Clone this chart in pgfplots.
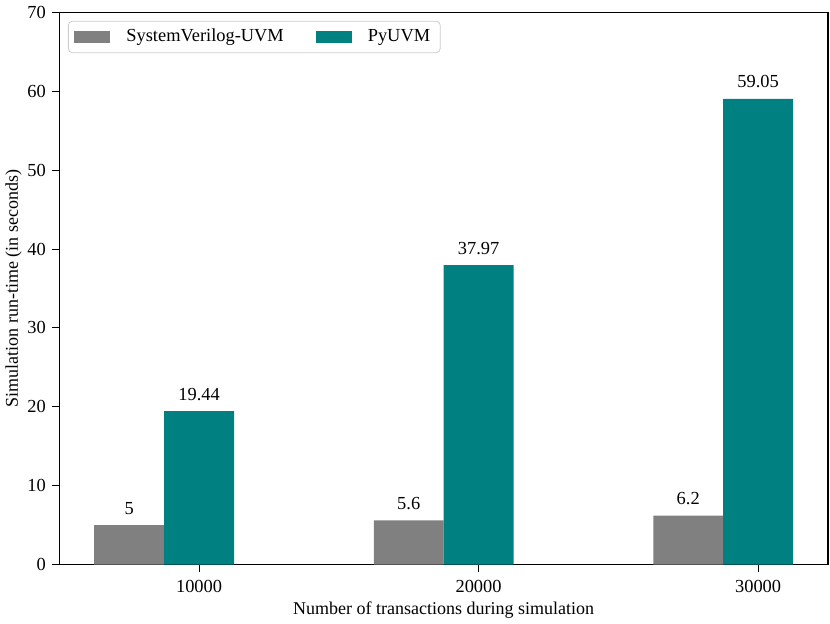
\documentclass[border=0pt]{standalone}
\usepackage{fontspec}
\setmainfont{Liberation Serif}
\usepackage{pgfplots}
\pgfplotsset{compat=1.18}
\definecolor{svgray}{HTML}{808080}
\definecolor{pyteal}{HTML}{008080}

\begin{document}
\fontsize{9}{10.5}\selectfont
\begin{tikzpicture}
  \begin{axis}[
    name=ax, at={(0,0)}, anchor=south west,
    scale only axis, width=384.35pt, height=276pt,
    xmin=-0.5, xmax=2.25, ymin=0, ymax=70,
    xtick={0,1,2}, xticklabels={10000,20000,30000},
    ytick={0,10,...,70},
    tick pos=left, tick align=outside,
    major tick length=3.5pt,
    every tick/.style={line width=0.55pt, black},
    axis line style={line width=0.55pt},
    /pgf/number format/assume math mode=true,
    tick label style={font=\fontsize{9.2}{10.5}\selectfont},
    xticklabel style={yshift=-1pt},
    xlabel={Number of transactions during simulation},
    ylabel={Simulation run-time (in seconds)},
    xlabel style={at={(axis description cs:0.5,0)}, anchor=base, yshift=-24.75pt},
    ylabel style={at={(axis description cs:-0.0596,0.5)}, anchor=center},
    legend columns=2,
    legend image code/.code={\fill[#1, sharp corners] (0pt,-3pt) rectangle (18pt,3pt);},
    legend style={at={(0.0113,0.985)}, anchor=north west,
      draw=black!20, rounded corners=2pt, fill=white,
      font=\fontsize{9.2}{10.5}\selectfont,
      inner xsep=3pt, inner ysep=2pt,
      /tikz/every odd column/.append style={column sep=6pt},
      /tikz/every even column/.append style={column sep=14pt}},
    nodes near coords,
    nodes near coords style={anchor=base, yshift=5.5pt, font=\fontsize{9.2}{10.5}\selectfont},
  ]
    % gray bars sit half a slot left of each tick
    \addplot[ybar, fill=svgray, draw=none, bar width=0.25, bar shift=0]
      coordinates {(-0.25,5) (0.75,5.6) (1.75,6.2)};
    \addlegendentry{SystemVerilog-UVM}
    \addplot[ybar, fill=pyteal, draw=none, bar width=0.25, bar shift=0]
      coordinates {(0,19.44) (1,37.97) (2,59.05)};
    \addlegendentry{PyUVM}
  \end{axis}
  \pgfresetboundingbox
  \path[use as bounding box] (-29.65pt,-29.25pt) rectangle (385.35pt,282.25pt);
\end{tikzpicture}
\end{document}
